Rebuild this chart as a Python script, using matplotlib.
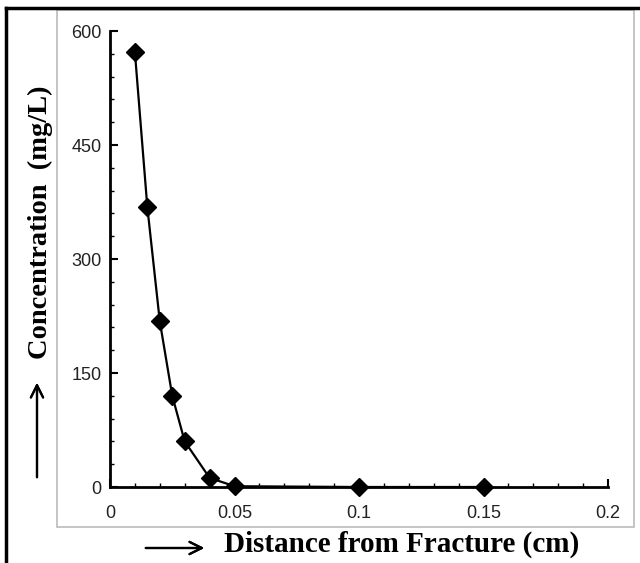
import matplotlib.pyplot as plt
from matplotlib.patches import Rectangle
from matplotlib.lines import Line2D
from matplotlib.ticker import MultipleLocator

# distance from fracture (cm) and concentration (mg/L)
distance = [0.01, 0.015, 0.02, 0.025, 0.03, 0.04, 0.05, 0.1, 0.15]
concentration = [572, 368, 218, 120, 60, 12, 1, 0, 0]

x_ticks = [0, 0.05, 0.1, 0.15, 0.2]
x_tick_labels = ['0', '0.05', '0.1', '0.15', '0.2']
y_ticks = [0, 150, 300, 450, 600]

fig = plt.figure(figsize=(6.4, 5.63), dpi=100)
ax = fig.add_axes([110/640, 1 - 487/563, 498/640, 456/563])

ax.plot(distance, concentration, color='black', lw=1.6, marker='D', ms=9,
        markerfacecolor='black', markeredgecolor='black', clip_on=False, zorder=5)

ax.set_xlim(0, 0.2)
ax.set_ylim(0, 600)
ax.set_xticks(x_ticks)
ax.set_xticklabels(x_tick_labels)
ax.set_yticks(y_ticks)
ax.xaxis.set_minor_locator(MultipleLocator(0.01))
ax.yaxis.set_minor_locator(MultipleLocator(30))

for side in ['top', 'right']:
    ax.spines[side].set_visible(False)
for side in ['left', 'bottom']:
    ax.spines[side].set_linewidth(2)

ax.tick_params(which='major', direction='in', length=6, width=1.5, labelsize=13,
               colors='black', labelcolor='#222222', labelfontfamily='Liberation Sans')
ax.tick_params(which='minor', direction='in', length=3, width=1)
ax.tick_params(axis='x', pad=13)
ax.tick_params(axis='y', pad=6)

# grey inner frame and black outer border
fig.add_artist(Rectangle((57/640, 1 - 527/563), 577/640, 517/563, transform=fig.transFigure,
                         fill=False, edgecolor='#bbbbbb', lw=1.2))
fig.add_artist(Line2D([6/640, 1], [1 - 8/563, 1 - 8/563], transform=fig.transFigure,
                      color='black', lw=2.5))
fig.add_artist(Line2D([6/640, 6/640], [0, 1 - 8/563], transform=fig.transFigure,
                      color='black', lw=2.5))

# axis titles with arrows
fig.text(40/640, 1 - 222/563, 'Concentration  (mg/L)', rotation=90, ha='center', va='center',
         fontsize=20.5, fontweight='bold', family='Liberation Serif')
fig.text(402/640, 1 - 544/563, 'Distance from Fracture (cm)', ha='center', va='center',
         fontsize=21, fontweight='bold', family='Liberation Serif')

fig.add_artist(plt.annotate('', xy=(37/640, 1 - 380/563), xytext=(37/640, 1 - 480/563),
                            xycoords='figure fraction',
                            arrowprops=dict(arrowstyle='->', lw=1.6, color='black',
                                            mutation_scale=22)))
fig.add_artist(plt.annotate('', xy=(207/640, 1 - 548/563), xytext=(143/640, 1 - 548/563),
                            xycoords='figure fraction',
                            arrowprops=dict(arrowstyle='->', lw=1.6, color='black',
                                            mutation_scale=22)))

fig.savefig('out.png', dpi=100)
